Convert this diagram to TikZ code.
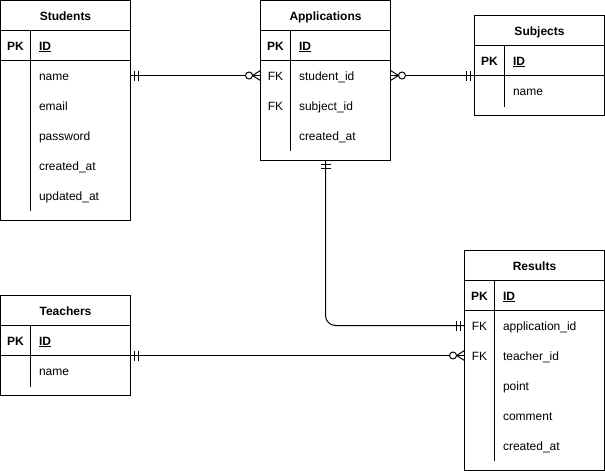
\documentclass[tikz,border=0pt]{standalone}
\usepackage{fontspec}
\setmainfont{Liberation Sans}
\usetikzlibrary{calc}
\begin{document}
\begin{tikzpicture}[x=1pt, y=-1pt, line width=1pt,
  font=\fontsize{12}{14}\selectfont,
  entity/.style={draw, rectangle, anchor=north west, inner sep=0pt, outer sep=0pt},
  etitle/.style={font=\fontsize{12}{14}\selectfont\bfseries, anchor=base},
  field/.style={anchor=west, inner sep=0pt, text height=9.5pt, text depth=0.5pt},
  keycol/.style={field, anchor=center, font=\fontsize{12}{14}\selectfont\bfseries},
  fkcol/.style={field, anchor=center},
  pkname/.style={field, font=\fontsize{12}{14}\selectfont\bfseries},
  mandone/.pic={\draw (4,-5) -- (4,5) (8,-5) -- (8,5);},
  zeromany/.pic={\draw (0,-5) -- (8,0) -- (0,5);
                 \draw[fill=white] (11.5,0) circle (3.5);},
]
\useasboundingbox (-0.5,-0.5) rectangle (604.5,470.5);

% ---------- Students ----------
\node[entity, minimum width=130pt, minimum height=220pt] (students) at (0,0) {};
\node[etitle] (s-title) at (65,20) {Students};
\draw (0,30) -- (130,30) (0,60) -- (130,60) (30,30) -- (30,210);
\node[keycol] (s-pk) at (15,45) {PK};
\node[pkname] (s-id) at (38,45) {\underline{ID}};
\node[field] (s-name) at (38,75) {name};
\node[field] (s-email) at (38,105) {email};
\node[field] (s-pass) at (38,135) {password};
\node[field] (s-cre) at (38,165) {created\_at};
\node[field] (s-upd) at (38,195) {updated\_at};

% ---------- Applications ----------
\node[entity, minimum width=130pt, minimum height=160pt] (apps) at (260,0) {};
\node[etitle] (a-title) at (325,20) {Applications};
\draw (260,30) -- (390,30) (260,60) -- (390,60) (290,30) -- (290,150);
\node[keycol] (a-pk) at (275,45) {PK};
\node[pkname] (a-id) at (298,45) {\underline{ID}};
\node[fkcol] (a-fk1) at (275,75) {FK};
\node[field] (a-sid) at (298,75) {student\_id};
\node[fkcol] (a-fk2) at (275,105) {FK};
\node[field] (a-subid) at (298,105) {subject\_id};
\node[field] (a-cre) at (298,135) {created\_at};

% ---------- Subjects ----------
\node[entity, minimum width=130pt, minimum height=100pt] (subjects) at (474,15) {};
\node[etitle] (j-title) at (539,35) {Subjects};
\draw (474,45) -- (604,45) (474,75) -- (604,75) (504,45) -- (504,106);
\node[keycol] (j-pk) at (489,60) {PK};
\node[pkname] (j-id) at (512,60) {\underline{ID}};
\node[field] (j-name) at (512,90) {name};

% ---------- Teachers ----------
\node[entity, minimum width=130pt, minimum height=100pt] (teachers) at (0,295) {};
\node[etitle] (t-title) at (65,315) {Teachers};
\draw (0,325) -- (130,325) (0,355) -- (130,355) (30,325) -- (30,386);
\node[keycol] (t-pk) at (15,340) {PK};
\node[pkname] (t-id) at (38,340) {\underline{ID}};
\node[field] (t-name) at (38,370) {name};

% ---------- Results ----------
\node[entity, minimum width=140pt, minimum height=220pt] (results) at (464,250) {};
\node[etitle] (r-title) at (534,270) {Results};
\draw (464,280) -- (604,280) (464,310) -- (604,310) (494,280) -- (494,460);
\node[keycol] (r-pk) at (479,295) {PK};
\node[pkname] (r-id) at (502,295) {\underline{ID}};
\node[fkcol] (r-fk1) at (479,325) {FK};
\node[field] (r-aid) at (502,325) {application\_id};
\node[fkcol] (r-fk2) at (479,355) {FK};
\node[field] (r-tid) at (502,355) {teacher\_id};
\node[field] (r-point) at (502,385) {point};
\node[field] (r-comm) at (502,415) {comment};
\node[field] (r-cre) at (502,445) {created\_at};

% ---------- Relationships ----------
% Students 1 -- 0..n Applications
\draw (students.east |- s-name) -- (apps.west |- a-sid);
\pic at (students.east |- s-name) {mandone};
\pic[rotate=180] at (apps.west |- a-sid) {zeromany};

% Applications 0..n -- 1 Subjects
\draw (apps.east |- a-sid) -- (subjects.west |- a-sid);
\pic at (apps.east |- a-sid) {zeromany};
\pic[rotate=180] at (subjects.west |- a-sid) {mandone};

% Applications 1 -- 1 Results
\draw[rounded corners=10pt] (apps.south) -- (apps.south |- r-aid) -- (results.west |- r-aid);
\pic[rotate=-90] at (apps.south) {mandone};
\pic[rotate=180] at (results.west |- r-aid) {mandone};

% Teachers 1 -- 0..n Results
\draw (teachers.east |- r-tid) -- (results.west |- r-tid);
\pic at (teachers.east |- r-tid) {mandone};
\pic[rotate=180] at (results.west |- r-tid) {zeromany};
\end{tikzpicture}
\end{document}
